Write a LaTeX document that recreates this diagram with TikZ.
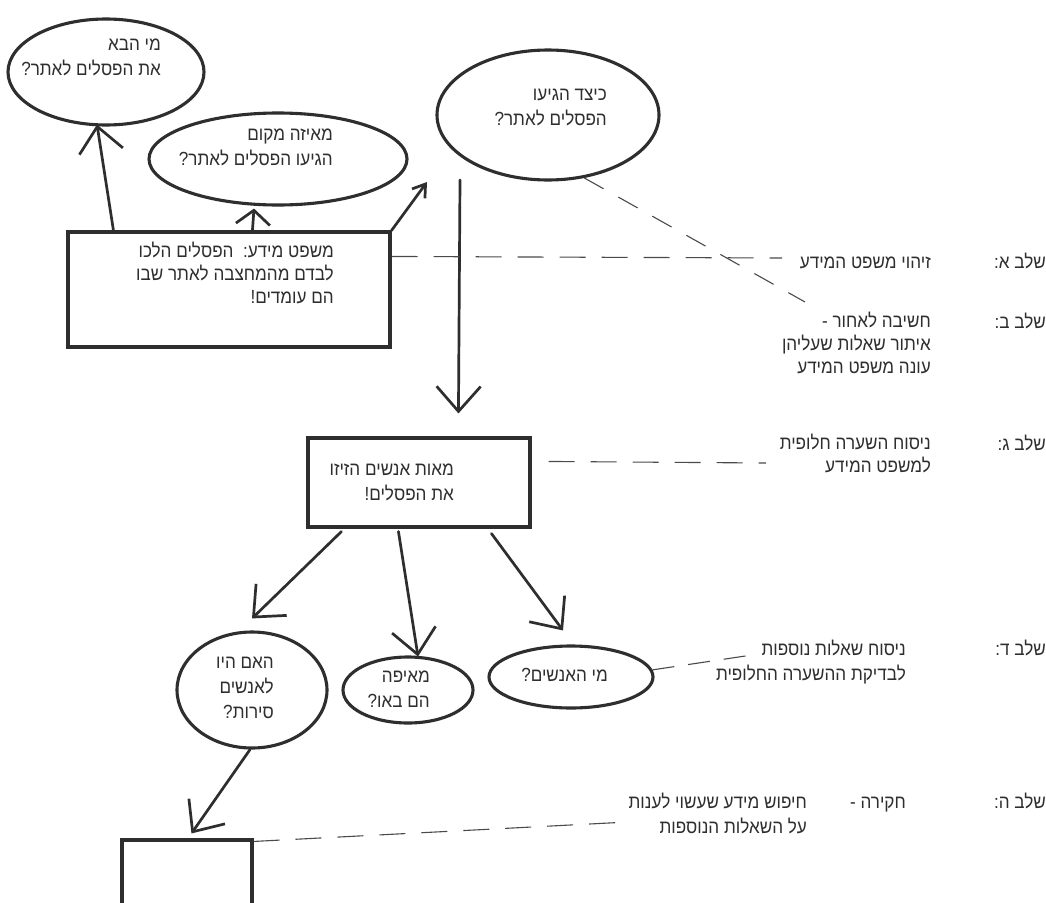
\documentclass[tikz,border=0pt]{standalone}
\usepackage{fontspec}
\setmainfont{Liberation Sans}
\newfontfamily\hebfont[Script=Hebrew,FakeStretch=0.9]{Liberation Sans}
\TeXXeTstate=1
\usetikzlibrary{arrows.meta,shapes.geometric,calc}
\newcommand{\hbl}[1]{\beginR #1\endR}
\definecolor{ink}{HTML}{2E2E2E}
\definecolor{dashc}{HTML}{4A4A4A}
\begin{document}
\begin{tikzpicture}[x=1pt,y=-1pt,
  shp/.style={draw=ink, line width=3.1pt},
  ell/.style={shp, ellipse, inner sep=0pt},
  box/.style={shp, rectangle, inner sep=0pt},
  txt/.style={font=\hebfont\fontsize{19}{25}\selectfont, text=ink, align=right, inner sep=0pt, anchor=north east},
  txtr/.style={txt, font=\hebfont\fontsize{19}{23}\selectfont},
  arr/.style={draw=ink, line width=2.7pt, line cap=round, -{Straight Barb[length=25pt,width=44pt]}},
  arrs/.style={draw=ink, line width=2.7pt, line cap=round, -{Straight Barb[length=14pt,width=34pt]}},
  arrt/.style={draw=ink, line width=2.7pt, line cap=round, -{Straight Barb[length=12pt,width=16pt]}},
  dline/.style={draw=dashc, line width=1.1pt, dash pattern=on 26pt off 16pt},
]
\useasboundingbox (0,0) rectangle (1046,902);
\clip (0,0) rectangle (1046,902);
\fill[white] (0,0) rectangle (1046,902);

% ellipses
\node[ell, minimum width=196pt, minimum height=106pt] (e1) at (106,72) {};
\node[ell, minimum width=258pt, minimum height=92pt] (e2) at (278,159) {};
\node[ell, minimum width=222pt, minimum height=130pt] (e3) at (548,115) {};
\node[ell, minimum width=150pt, minimum height=116pt] (eh) at (252,690) {};
\node[ell, minimum width=130pt, minimum height=66pt] (emp) at (408,690) {};
\node[ell, minimum width=164pt, minimum height=62pt] (emi) at (571,677) {};

% rectangles
\node[box, minimum width=322pt, minimum height=115pt] (r1) at (229,289.5) {};
\node[box, minimum width=222pt, minimum height=89pt] (r2) at (419,482.5) {};
\node[box, minimum width=130pt, minimum height=90pt] (br) at (187,885) {};

% texts in shapes
\node[txt] (t1) at (161,33) {\hbl{\strut מי הבא}\\\hbl{את הפסלים לאתר?}};
\node[txt] (t2) at (333,123) {\hbl{\strut מאיזה מקום}\\\hbl{הגיעו הפסלים לאתר?}};
\node[txt] (t3) at (607,83) {\hbl{\strut כיצד הגיעו}\\\hbl{הפסלים לאתר?}};
\node[txtr] (tr1) at (334,241) {\hbl{\strut משפט מידע:\ \ הפסלים הלכו}\\\hbl{לבדם מהמחצבה לאתר שבו}\\\hbl{הם עומדים!}};
\node[txt] (tr2) at (454,458) {\hbl{\strut מאות אנשים הזיזו}\\\hbl{את הפסלים!}};
\node[txt] (th) at (274,651) {\hbl{\strut האם היו}\\\hbl{לאנשים}\\\hbl{סירות?}};
\node[txt] (tmp) at (430,665) {\hbl{\strut מאיפה}\\\hbl{הם באו?}};
\node[txt] (tmi) at (608,664) {\hbl{\strut מי האנשים?}};

% step labels
\node[txt] (s1) at (1046,251) {\hbl{\strut שלב א:}};
\node[txt] (s2) at (1046,311) {\hbl{\strut שלב ב:}};
\node[txt] (s3) at (1046,433) {\hbl{\strut שלב ג:}};
\node[txt] (s4) at (1046,638) {\hbl{\strut שלב ד:}};
\node[txt] (s5) at (1046,791) {\hbl{\strut שלב ה:}};

% descriptions
\node[txt] (d1) at (931,251) {\hbl{\strut זיהוי משפט המידע}};
\node[txtr] (d2) at (931,311) {\hbl{\strut חשיבה לאחור -}\\\hbl{איתור שאלות שעליהן}\\\hbl{עונה משפט המידע}};
\node[txtr] (d3) at (931,433) {\hbl{\strut ניסוח השערה חלופית}\\\hbl{למשפט המידע}};
\node[txt] (d4) at (906,638) {\hbl{\strut ניסוח שאלות נוספות}\\\hbl{לבדיקת ההשערה החלופית}};
\node[txt] (d5a) at (906,791) {\hbl{\strut חקירה -}};
\node[txt] (d5b) at (807,791) {\hbl{\strut חיפוש מידע שעשוי לענות}\\\hbl{על השאלות הנוספות}};

% arrows
\draw[arr] ($(r1.north west)+(47,0)$) -- ($(e1.south)+(-9,-2)$);
\draw[arrs] ($(r1.north west)+(186,0)$) -- ($(e2.south)+(-24,2)$);
\draw[arrt] (r1.north east) -- ($(e3.center)+(-121,67)$);
\draw[arr] ($(e3.center)+(-88,65)$) -- ($(r2.north west)+(152,-23)$);
\draw[arr] ($(r2.south west)+(35,3)$) -- ($(eh.north)+(0,-12)$);
\draw[arr] ($(r2.south west)+(92,3)$) -- ($(emp.north)+(10,1)$);
\draw[arr] ($(r2.south west)+(185,5)$) -- ($(emi.north)+(-8,-14)$);
\draw[arr] ($(eh.south)+(-2,0)$) -- ($(br.north west)+(71,-5)$);

% dashed connectors
\coordinate (c1) at (782,258);
\coordinate (c2) at (805,302);
\coordinate (c3) at (766,463);
\coordinate (c4) at (752,655);
\coordinate (c5) at (628,822);
\draw[dline] ($(r1.north east)+(0,26)$) -- (c1);
\draw[dline, dash pattern=on 22pt off 17pt] (e3.-60) -- (c2);
\draw[dline] ($(r2.north east)+(17,25)$) -- (c3);
\draw[dline, dash pattern=on 22pt off 14pt] (emi.5) -- (c4);
\draw[dline] ($(br.north east)+(0,3)$) -- (c5);
\end{tikzpicture}
\end{document}
